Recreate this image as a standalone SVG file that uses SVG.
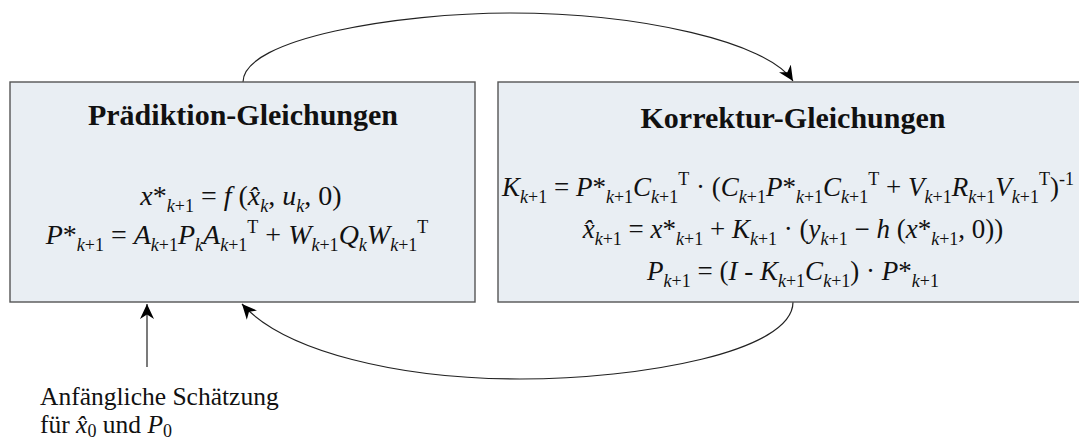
<svg xmlns="http://www.w3.org/2000/svg" width="1079" height="441" viewBox="0 0 1079 441">
<defs>
<style>
.box{fill:#e9eef3;stroke:#555;stroke-width:1.4}
.t{font-family:"Liberation Serif",serif;font-weight:bold;font-size:30px;fill:#111}
.eq{font-family:"Liberation Serif",serif;font-style:italic;font-size:27px;fill:#111}
.big{font-size:28px}
.up{font-style:normal}
.s{font-size:18px}
.lbl{font-family:"Liberation Serif",serif;font-size:25.5px;fill:#111}
.con{fill:none;stroke:#222;stroke-width:1.2}
</style>
<marker id="ah" markerWidth="16" markerHeight="14" refX="15" refY="7" orient="auto" markerUnits="userSpaceOnUse">
<path d="M0,0 L15,7 L0,14 L4.5,7 z" fill="#000"/>
</marker>
</defs>
<rect width="1079" height="441" fill="#fff"/>
<g id="connectors">
<path class="con" d="M243,82 C243,38 400,13 510,13 C640,13 768,42 793,81" marker-end="url(#ah)"/>
<path class="con" d="M793,302 C793,352 640,379 520,379 C400,379 285,352 242,304" marker-end="url(#ah)"/>
<path class="con" d="M147,367 L147,304" marker-end="url(#ah)"/>
</g>
<g id="praediktion">
<rect class="box" x="10" y="82" width="465" height="220"/>
<text class="t" x="243" y="125" text-anchor="middle">Prädiktion-Gleichungen</text>
<text class="eq big" x="241" y="205" text-anchor="middle">x<tspan class="up">*</tspan><tspan class="s" dy="7">k</tspan><tspan class="s up">+1</tspan><tspan class="up" dy="-7"> = </tspan>f<tspan class="up"> (</tspan>x̂<tspan class="s" dy="7">k</tspan><tspan class="up" dy="-7">, </tspan>u<tspan class="s" dy="7">k</tspan><tspan class="up" dy="-7">, 0)</tspan></text>
<text class="eq big" x="237" y="244" text-anchor="middle">P<tspan class="up">*</tspan><tspan class="s" dy="7">k</tspan><tspan class="s up">+1</tspan><tspan class="up" dy="-7"> = </tspan>A<tspan class="s" dy="7">k</tspan><tspan class="s up">+1</tspan><tspan dy="-7">P</tspan><tspan class="s" dy="7">k</tspan><tspan dy="-7">A</tspan><tspan class="s" dy="7">k</tspan><tspan class="s up">+1</tspan><tspan class="s up" dy="-18">T</tspan><tspan class="up" dy="11"> + </tspan>W<tspan class="s" dy="7">k</tspan><tspan class="s up">+1</tspan><tspan dy="-7">Q</tspan><tspan class="s" dy="7">k</tspan><tspan dy="-7">W</tspan><tspan class="s" dy="7">k</tspan><tspan class="s up">+1</tspan><tspan class="s up" dy="-18">T</tspan></text>
</g>
<g id="korrektur">
<rect class="box" x="498" y="82" width="590" height="220"/>
<text class="t" x="793" y="128" text-anchor="middle">Korrektur-Gleichungen</text>
<text class="eq" x="788" y="196" text-anchor="middle">K<tspan class="s" dy="7">k</tspan><tspan class="s up">+1</tspan><tspan class="up" dy="-7"> = </tspan>P<tspan class="up">*</tspan><tspan class="s" dy="7">k</tspan><tspan class="s up">+1</tspan><tspan dy="-7">C</tspan><tspan class="s" dy="7">k</tspan><tspan class="s up">+1</tspan><tspan class="s up" dy="-18">T</tspan><tspan class="up" dy="11"> · (</tspan>C<tspan class="s" dy="7">k</tspan><tspan class="s up">+1</tspan><tspan dy="-7">P</tspan><tspan class="up">*</tspan><tspan class="s" dy="7">k</tspan><tspan class="s up">+1</tspan><tspan dy="-7">C</tspan><tspan class="s" dy="7">k</tspan><tspan class="s up">+1</tspan><tspan class="s up" dy="-18">T</tspan><tspan class="up" dy="11"> + </tspan>V<tspan class="s" dy="7">k</tspan><tspan class="s up">+1</tspan><tspan dy="-7">R</tspan><tspan class="s" dy="7">k</tspan><tspan class="s up">+1</tspan><tspan dy="-7">V</tspan><tspan class="s" dy="7">k</tspan><tspan class="s up">+1</tspan><tspan class="s up" dy="-18">T</tspan><tspan class="up" dy="11">)</tspan><tspan class="s up" dy="-11">-1</tspan></text>
<text class="eq" x="793" y="238" text-anchor="middle">x̂<tspan class="s" dy="7">k</tspan><tspan class="s up">+1</tspan><tspan class="up" dy="-7"> = </tspan>x<tspan class="up">*</tspan><tspan class="s" dy="7">k</tspan><tspan class="s up">+1</tspan><tspan class="up" dy="-7"> + </tspan>K<tspan class="s" dy="7">k</tspan><tspan class="s up">+1</tspan><tspan class="up" dy="-7"> ·  (</tspan>y<tspan class="s" dy="7">k</tspan><tspan class="s up">+1</tspan><tspan class="up" dy="-7"> − </tspan>h<tspan class="up"> (</tspan>x<tspan class="up">*</tspan><tspan class="s" dy="7">k</tspan><tspan class="s up">+1</tspan><tspan class="up" dy="-7">, 0))</tspan></text>
<text class="eq" x="793" y="280" text-anchor="middle">P<tspan class="s" dy="7">k</tspan><tspan class="s up">+1</tspan><tspan class="up" dy="-7"> =  (</tspan>I<tspan class="up"> - </tspan>K<tspan class="s" dy="7">k</tspan><tspan class="s up">+1</tspan><tspan dy="-7">C</tspan><tspan class="s" dy="7">k</tspan><tspan class="s up">+1</tspan><tspan class="up" dy="-7">) · </tspan>P<tspan class="up">*</tspan><tspan class="s" dy="7">k</tspan><tspan class="s up">+1</tspan></text>
</g>
<g id="anfang">
<text class="lbl" x="40" y="405">Anfängliche Schätzung</text>
<text class="lbl" x="40" y="433">für <tspan font-style="italic">x̂</tspan><tspan class="s" dy="4">0</tspan><tspan dy="-4"> und </tspan><tspan font-style="italic">P</tspan><tspan class="s" dy="4">0</tspan></text>
</g>
</svg>
